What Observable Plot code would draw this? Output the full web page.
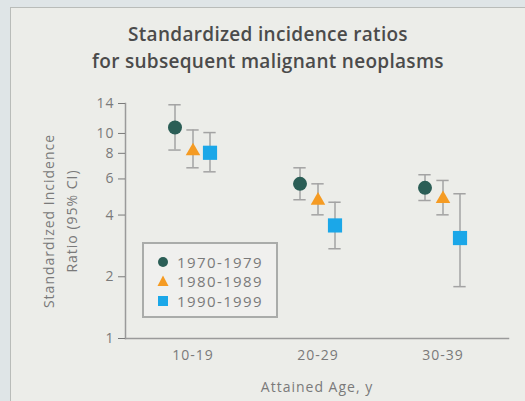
<!DOCTYPE html>
<html>
<head>
<meta charset="utf-8">
<script src="https://cdn.jsdelivr.net/npm/d3@7"></script>
<script src="https://cdn.jsdelivr.net/npm/@observablehq/plot@0.6"></script>
<style>
  html, body { margin: 0; padding: 0; }
  body { width: 525px; height: 401px; background: #dfe5e7; overflow: hidden; font-family: "Open Sans", sans-serif; }
  #wrap { position: relative; width: 525px; height: 401px; }
  #panel { position: absolute; left: 10px; top: 7px; width: 515px; height: 394px; background: #ecede9;
           border-left: 1.5px solid #b9bcb9; border-top: 1.5px solid #b9bcb9; box-sizing: border-box; }
  #title { position: absolute; left: 0; width: 536px; top: 21px; text-align: center; color: #4b4b4b;
           font-size: 19px; font-weight: 600; line-height: 27px; letter-spacing: 0.3px; }
  #chart { position: absolute; left: 0; top: 0; }
  #legend { position: absolute; left: 142px; top: 242px; width: 136px; height: 76px; box-sizing: border-box;
            border: 2px solid #aaacaa; background: #f0f0ee; padding-top: 8px; }
  .row { display: flex; align-items: center; height: 19.5px; color: #7a7a7a; font-size: 15px; letter-spacing: 1.4px; }
  .row svg { margin-left: 13px; margin-right: 8px; }
</style>
</head>
<body>
<div id="wrap">
  <div id="panel"></div>
  <div id="chart"></div>
  <div id="title"></div>
  <div id="legend"></div>
</div>
<script>
// ---- data ----
const ageGroups = ["10-19", "20-29", "30-39"];
const periods = ["1970-1979", "1980-1989", "1990-1999"];
const sir1970 = [10.7, 5.68, 5.43];
const lo1970  = [8.3, 4.75, 4.71];
const hi1970  = [13.8, 6.8, 6.29];
const sir1980 = [8.2, 4.71, 4.80];
const lo1980  = [6.8, 4.01, 4.01];
const hi1980  = [10.4, 5.68, 5.9];
const sir1990 = [8.05, 3.56, 3.09];
const lo1990  = [6.5, 2.74, 1.79];
const hi1990  = [10.1, 4.62, 5.08];
const yTicks = [1, 2, 4, 6, 8, 10, 14];
const yDomain = [1, 14];
const titleLines = ["Standardized incidence ratios", "for subsequent malignant neoplasms"];
const yLabel = "Standardized Incidence\nRatio (95% CI)";
const xLabel = "Attained Age, y";

// ---- styles ----
const seriesStyle = [
  {symbol: "circle",   color: "#2b5e56", r: 7,   dx: -18},
  {symbol: "triangle", color: "#f59b23", r: 5.4, dx: 0},
  {symbol: "square",   color: "#1ba7e8", r: 8,   dx: 17}
];
const values = [[sir1970, lo1970, hi1970], [sir1980, lo1980, hi1980], [sir1990, lo1990, hi1990]];
const series = periods.map((p, i) => ({
  period: p, style: seriesStyle[i],
  rows: ageGroups.map((a, j) => ({age: a, period: p, sir: values[i][0][j], lo: values[i][1][j], hi: values[i][2][j]}))
}));

const capInset = (377 / 3 - 13) / 2;
const barColor = "#a3a3a3";

const marks = [
  Plot.frame({anchor: "left", stroke: "#9a9a9a", strokeWidth: 1.5}),
  Plot.frame({anchor: "bottom", stroke: "#9a9a9a", strokeWidth: 1.5}),
  Plot.axisY({ticks: yTicks, tickFormat: d => d, tickSize: 7, tickPadding: 4, fontSize: 14, color: "#7a7a7a", label: null}),
  Plot.axisX({tickSize: 0, tickPadding: 12, fontSize: 14, color: "#7a7a7a", label: xLabel, labelAnchor: "center", labelOffset: 53}),
  Plot.text([yLabel], {frameAnchor: "left", textAnchor: "middle", rotate: -90, dx: -67, fontSize: 14, lineHeight: 1.6, fill: "#7a7a7a", text: d => d})
];
for (const s of series) {
  const st = s.style;
  marks.push(Plot.ruleX(s.rows, {x: "age", y1: "lo", y2: "hi", dx: st.dx, stroke: barColor, strokeWidth: 1.5}));
  marks.push(Plot.tickY(s.rows, {x: "age", y: "hi", dx: st.dx, insetLeft: capInset, insetRight: capInset, stroke: barColor, strokeWidth: 1.5}));
  marks.push(Plot.tickY(s.rows, {x: "age", y: "lo", dx: st.dx, insetLeft: capInset, insetRight: capInset, stroke: barColor, strokeWidth: 1.5}));
  marks.push(Plot.dot(s.rows, {x: "age", y: "sir", dx: st.dx, symbol: st.symbol, r: st.r, fill: st.color, stroke: "none"}));
}

const chart = Plot.plot({
  width: 525, height: 401,
  marginTop: 103, marginBottom: 63, marginLeft: 125, marginRight: 17,
  x: {domain: ageGroups, range: [129, 506], padding: 0},
  y: {type: "log", domain: yDomain},
  style: {background: "transparent", fontFamily: "Open Sans", fontSize: "14px", color: "#7a7a7a", overflow: "visible", letterSpacing: "1px"},
  marks
});
document.getElementById("chart").appendChild(chart);

// title
document.getElementById("title").innerHTML = titleLines.join("<br>");

// legend
const legend = document.getElementById("legend");
const symPaths = {
  circle: '<circle cx="6" cy="6" r="5"/>',
  triangle: '<path d="M6 0.5 L11.5 11 L0.5 11 Z"/>',
  square: '<rect x="1" y="1" width="10" height="10"/>'
};
series.forEach(s => {
  const row = document.createElement("div");
  row.className = "row";
  row.innerHTML = `<svg width="12" height="12" fill="${s.style.color}">${symPaths[s.style.symbol]}</svg><span>${s.period}</span>`;
  legend.appendChild(row);
});
</script>
</body>
</html>
